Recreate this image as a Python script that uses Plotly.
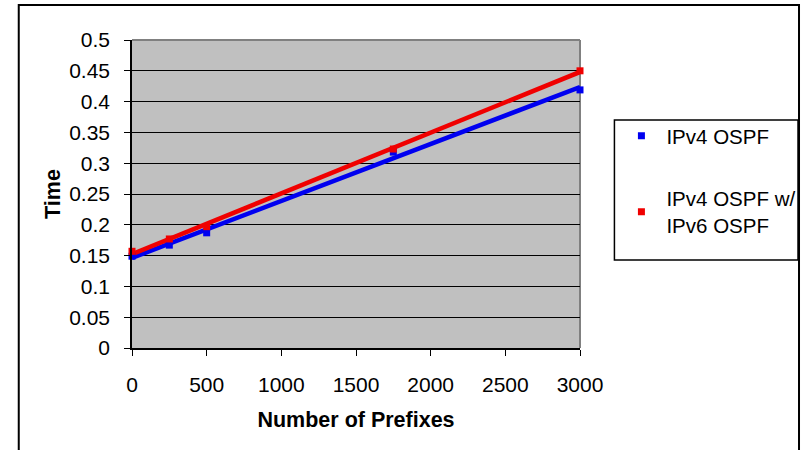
import numpy as np
import plotly.graph_objects as go

prefixes = [0, 250, 500, 1750, 3000]
ipv4_ospf = [0.149, 0.167, 0.187, 0.318, 0.419]
ipv4_ospf_v6 = [0.157, 0.177, 0.197, 0.323, 0.450]

names = ["IPv4 OSPF", "IPv4 OSPF w/<br>IPv6 OSPF"]
colors = ["#0000F0", "#F00000"]
series = [ipv4_ospf, ipv4_ospf_v6]

FONT = "Liberation Sans, Arial, sans-serif"

fig = go.Figure()

# linear trendlines (least squares fit of each series)
for vals, col, nm in zip(series, colors, names):
    coef = np.polyfit(prefixes, vals, 1)
    xs = np.array([prefixes[0], prefixes[-1]])
    fig.add_trace(go.Scatter(x=xs, y=np.polyval(coef, xs), mode="lines",
                             line=dict(color=col, width=4.5),
                             showlegend=False, hoverinfo="skip", cliponaxis=False))

for i, (vals, col, nm) in enumerate(zip(series, colors, names)):
    fig.add_trace(go.Scatter(x=prefixes, y=vals, mode="markers", name=nm,
                             marker=dict(symbol="square", size=7, color=col),
                             legendgroup=f"g{i}", cliponaxis=False))

L, R = 131.5, 580.5
T, B = 40, 348
W, H = 805, 450
pw, ph = R - L, B - T

def px(x):
    return (x - L) / pw

def py(y):
    return (B - y) / ph

fig.update_layout(
    width=W, height=H,
    margin=dict(l=L, r=W - R, t=T, b=H - B, pad=0, autoexpand=False),
    paper_bgcolor="white",
    plot_bgcolor="#C0C0C0",
    font=dict(family=FONT, size=20, color="black"),
    showlegend=True,
    legend=dict(
        x=px(617), y=py(116), xanchor="left", yanchor="top",
        bgcolor="rgba(0,0,0,0)", borderwidth=0,
        font=dict(family=FONT, size=20.5, color="black"),
        tracegroupgap=33, itemsizing="trace", itemwidth=40,
    ),
    xaxis=dict(
        range=[0, 3000], tickvals=[0, 500, 1000, 1500, 2000, 2500, 3000],
        showgrid=False, zeroline=False,
        showline=True, linecolor="black", linewidth=1.5,
        ticks="outside", ticklen=6, tickcolor="black", tickwidth=1,
        ticklabelstandoff=11,
        tickfont=dict(family=FONT, size=21),
        title=dict(text="<b>Number of Prefixes</b>", font=dict(family=FONT, size=21.5), standoff=17),
    ),
    yaxis=dict(
        range=[0, 0.5], tickvals=[0, 0.05, 0.1, 0.15, 0.2, 0.25, 0.3, 0.35, 0.4, 0.45, 0.5],
        ticktext=["0", "0.05", "0.1", "0.15", "0.2", "0.25", "0.3", "0.35", "0.4", "0.45", "0.5"],
        showgrid=True, gridcolor="black", gridwidth=1.2, zeroline=False,
        showline=True, linecolor="black", linewidth=1.5,
        ticks="outside", ticklen=6, tickcolor="black", tickwidth=1,
        ticklabelstandoff=10,
        tickfont=dict(family=FONT, size=21),
        title=dict(text="<b>Time</b>", font=dict(family=FONT, size=21.5), standoff=3),
    ),
    shapes=[
        # plot area top & right edges (gray)
        dict(type="line", xref="paper", yref="paper", x0=0, x1=1, y0=1, y1=1,
             line=dict(color="#808080", width=2), layer="between"),
        dict(type="line", xref="paper", yref="paper", x0=1, x1=1, y0=0, y1=1,
             line=dict(color="#808080", width=2), layer="between"),
        # legend box
        dict(type="rect", xref="paper", yref="paper", x0=px(615), x1=px(799),
             y0=py(260), y1=py(120), line=dict(color="black", width=1.5)),
        # outer chart frame
        dict(type="rect", xref="paper", yref="paper", x0=px(18), x1=px(800),
             y0=py(470), y1=py(5), line=dict(color="black", width=2)),
    ],
)

fig.write_html("out.html")
